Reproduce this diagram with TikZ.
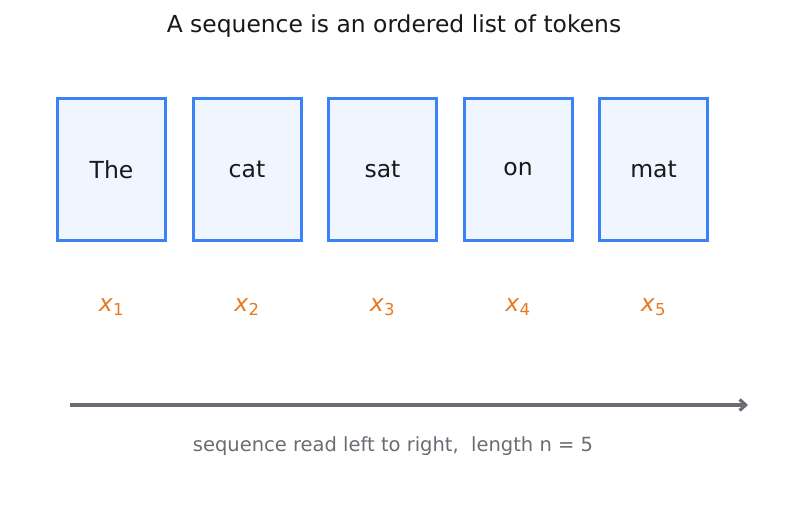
\documentclass[tikz,border=0pt]{standalone}
\usepackage{fontspec}
\setmainfont{DejaVu Sans}
\usetikzlibrary{arrows.meta}
\definecolor{tokenblue}{RGB}{59, 130, 246}
\definecolor{tokenfill}{RGB}{239, 246, 255}
\definecolor{idxorange}{RGB}{232, 121, 30}
\definecolor{axisgray}{RGB}{107, 107, 115}
\begin{document}
\begin{tikzpicture}[x=1pt, y=-1pt,
        token/.style={draw=tokenblue, fill=tokenfill, line width=3pt, minimum width=108pt, minimum height=142pt, inner sep=0pt, font=\fontsize{23.5}{28}\selectfont, text=black!90},
        index/.style={text=idxorange, font=\fontsize{23.5}{28}\selectfont}
      ]
        \useasboundingbox (0,0) rectangle (787,510);
        \node[font=\fontsize{23.4}{28}\selectfont, text=black!90] (title) at (394,26) {A sequence is an ordered list of tokens};
        \node[token] (the) at (111.5,169.5) {The};
        \node[token] (cat) at (247,169.5) {cat};
        \node[token] (sat) at (382.5,169.5) {sat};
        \node[token] (on) at (518,169.5) {on};
        \node[token] (mat) at (653.5,169.5) {mat};
        \node[index] (x1) at (111.5,307) {\textit{x}\textsubscript{1}};
        \node[index] (x2) at (247,307) {\textit{x}\textsubscript{2}};
        \node[index] (x3) at (382.5,307) {\textit{x}\textsubscript{3}};
        \node[index] (x4) at (518,307) {\textit{x}\textsubscript{4}};
        \node[index] (x5) at (653.5,307) {\textit{x}\textsubscript{5}};
        \coordinate (start) at (70,405);
        \coordinate (end) at (748,405);
        \draw[axisgray, line width=3.2pt, -{Straight Barb[length=6pt, width=11pt]}] (start) -- (end);
        \node[text=axisgray, font=\fontsize{19.5}{23}\selectfont] (caption) at (393,446.5) {sequence read left to right,\ \ length n = 5};
      \end{tikzpicture}
\end{document}
